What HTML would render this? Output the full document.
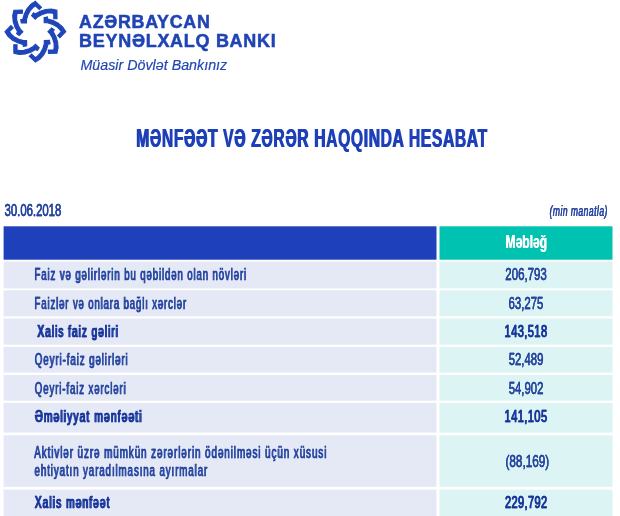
<!DOCTYPE html><html lang="az"><head><meta charset="utf-8"><title>Mənfəət və zərər haqqında hesabat</title><style>
html,body{margin:0;padding:0;background:#fff;}
body{width:620px;height:516px;position:relative;overflow:hidden;font-family:"Liberation Sans",sans-serif;}
.c{position:absolute;}
</style></head><body>
<svg class="c" style="left:0;top:0" width="72" height="66" viewBox="0 0 72 66"><g fill="#1f45ba" stroke="#1f45ba" stroke-width="1.1" stroke-linejoin="miter" transform="translate(35.4,31.7)">
<path transform="rotate(0)" d="M0.00,-30.40 L6.10,-24.50 L3.80,-22.20 L0.00,-25.90 L-2.10,-24.40 L-5.00,-21.40 L-7.60,-16.50 L-8.90,-12.00 L-8.90,-8.80 L-14.10,-8.70 L-14.70,-12.00 L-12.70,-12.40 L-11.10,-17.80 L-8.50,-22.90 L-4.70,-27.40Z"/>
<path transform="rotate(45)" d="M0.00,-30.40 L6.10,-24.50 L3.80,-22.20 L0.00,-25.90 L-2.10,-24.40 L-5.00,-21.40 L-7.60,-16.50 L-8.90,-12.00 L-8.90,-8.80 L-14.10,-8.70 L-14.70,-12.00 L-12.70,-12.40 L-11.10,-17.80 L-8.50,-22.90 L-4.70,-27.40Z"/>
<path transform="rotate(90)" d="M0.00,-30.40 L6.10,-24.50 L3.80,-22.20 L0.00,-25.90 L-2.10,-24.40 L-5.00,-21.40 L-7.60,-16.50 L-8.90,-12.00 L-8.90,-8.80 L-14.10,-8.70 L-14.70,-12.00 L-12.70,-12.40 L-11.10,-17.80 L-8.50,-22.90 L-4.70,-27.40Z"/>
<path transform="rotate(135)" d="M0.00,-30.40 L6.10,-24.50 L3.80,-22.20 L0.00,-25.90 L-2.10,-24.40 L-5.00,-21.40 L-7.60,-16.50 L-8.90,-12.00 L-8.90,-8.80 L-14.10,-8.70 L-14.70,-12.00 L-12.70,-12.40 L-11.10,-17.80 L-8.50,-22.90 L-4.70,-27.40Z"/>
<path transform="rotate(180)" d="M0.00,-30.40 L6.10,-24.50 L3.80,-22.20 L0.00,-25.90 L-2.10,-24.40 L-5.00,-21.40 L-7.60,-16.50 L-8.90,-12.00 L-8.90,-8.80 L-14.10,-8.70 L-14.70,-12.00 L-12.70,-12.40 L-11.10,-17.80 L-8.50,-22.90 L-4.70,-27.40Z"/>
<path transform="rotate(225)" d="M0.00,-30.40 L6.10,-24.50 L3.80,-22.20 L0.00,-25.90 L-2.10,-24.40 L-5.00,-21.40 L-7.60,-16.50 L-8.90,-12.00 L-8.90,-8.80 L-14.10,-8.70 L-14.70,-12.00 L-12.70,-12.40 L-11.10,-17.80 L-8.50,-22.90 L-4.70,-27.40Z"/>
<path transform="rotate(270)" d="M0.00,-30.40 L6.10,-24.50 L3.80,-22.20 L0.00,-25.90 L-2.10,-24.40 L-5.00,-21.40 L-7.60,-16.50 L-8.90,-12.00 L-8.90,-8.80 L-14.10,-8.70 L-14.70,-12.00 L-12.70,-12.40 L-11.10,-17.80 L-8.50,-22.90 L-4.70,-27.40Z"/>
<path transform="rotate(315)" d="M0.00,-30.40 L6.10,-24.50 L3.80,-22.20 L0.00,-25.90 L-2.10,-24.40 L-5.00,-21.40 L-7.60,-16.50 L-8.90,-12.00 L-8.90,-8.80 L-14.10,-8.70 L-14.70,-12.00 L-12.70,-12.40 L-11.10,-17.80 L-8.50,-22.90 L-4.70,-27.40Z"/>
</g></svg>
<svg class="c" style="left:0;top:0" width="620" height="516" viewBox="0 0 620 516">
<rect x="3.6" y="226.3" width="432.9" height="33.4" fill="#1e41bb"/><rect x="439.5" y="226.3" width="173.0" height="33.4" fill="#00c2b0"/>
<rect x="3.6" y="261.6" width="432.9" height="26.8" fill="#e5e9f6"/><rect x="439.5" y="261.6" width="173.0" height="26.8" fill="#dcf4f4"/>
<rect x="3.6" y="290.3" width="432.9" height="26.0" fill="#e5e9f6"/><rect x="439.5" y="290.3" width="173.0" height="26.0" fill="#dcf4f4"/>
<rect x="3.6" y="318.5" width="432.9" height="26.2" fill="#e5e9f6"/><rect x="439.5" y="318.5" width="173.0" height="26.2" fill="#dcf4f4"/>
<rect x="3.6" y="346.9" width="432.9" height="25.7" fill="#e5e9f6"/><rect x="439.5" y="346.9" width="173.0" height="25.7" fill="#dcf4f4"/>
<rect x="3.6" y="375.0" width="432.9" height="25.7" fill="#e5e9f6"/><rect x="439.5" y="375.0" width="173.0" height="25.7" fill="#dcf4f4"/>
<rect x="3.6" y="402.9" width="432.9" height="29.7" fill="#e5e9f6"/><rect x="439.5" y="402.9" width="173.0" height="29.7" fill="#dcf4f4"/>
<rect x="3.6" y="435.3" width="432.9" height="51.5" fill="#e5e9f6"/><rect x="439.5" y="435.3" width="173.0" height="51.5" fill="#dcf4f4"/>
<rect x="3.6" y="489.6" width="432.9" height="30" fill="#e5e9f6"/><rect x="439.5" y="489.6" width="173.0" height="30" fill="#dcf4f4"/>
</svg>
<svg class="c" style="left:0;top:0;will-change:transform;font-family:'Liberation Sans',sans-serif" width="620" height="516" viewBox="0 0 620 516">
<text id="t-l1" transform="translate(79.05,28.00) scale(1.0039,1)" font-size="17.8" font-weight="700" font-style="normal" fill="#1f44b4" letter-spacing="0.7" stroke="#1f44b4" stroke-width="0.5" stroke-linejoin="round">AZƏRBAYCAN</text>
<text id="t-l2" transform="translate(79.09,47.00) scale(1.0114,1)" font-size="17.8" font-weight="700" font-style="normal" fill="#1f44b4" letter-spacing="0.7" stroke="#1f44b4" stroke-width="0.5" stroke-linejoin="round">BEYNƏLXALQ BANKI</text>
<text id="t-l3" transform="translate(80.45,70.00) scale(0.9855,1)" font-size="14.5" font-weight="400" font-style="italic" fill="#2347b0" stroke="#2347b0" stroke-width="0.2" stroke-linejoin="round">Müasir Dövlət Bankınız</text>
<text id="t-ti" transform="translate(135.77,147.00) scale(0.6060,1)" font-size="25.9" font-weight="700" font-style="normal" fill="#1d3fb8" letter-spacing="1.0">MƏNFƏƏT VƏ ZƏRƏR HAQQINDA HESABAT</text><use href="#t-ti" x="0.90"/>
<text id="t-dt" transform="translate(4.41,216.00) scale(0.6527,1)" font-size="17.4" font-weight="400" font-style="normal" fill="#26459f" stroke="#26459f" stroke-width="0.35" stroke-linejoin="round">30.06.2018</text><use href="#t-dt" x="0.20"/>
<text id="t-mm" transform="translate(549.55,216.00) scale(0.5878,1)" font-size="14.5" font-weight="400" font-style="italic" fill="#26459f" letter-spacing="0.8" stroke="#26459f" stroke-width="0.25" stroke-linejoin="round">(min manatla)</text><use href="#t-mm" x="0.20"/>
<text id="t-hd" transform="translate(505.34,248.00) scale(0.6453,1)" font-size="18.7" font-weight="700" font-style="normal" fill="#ffffff">Məbləğ</text><use href="#t-hd" x="0.50"/>
<text id="t-r1" transform="translate(34.30,280.00) scale(0.5539,1)" font-size="17.4" font-weight="400" font-style="normal" fill="#26459f" letter-spacing="1.6" stroke="#26459f" stroke-width="0.35" stroke-linejoin="round">Faiz və gəlirlərin bu qəbildən olan növləri</text><use href="#t-r1" x="0.54"/>
<text id="t-r2" transform="translate(34.30,309.00) scale(0.5495,1)" font-size="17.4" font-weight="400" font-style="normal" fill="#26459f" letter-spacing="1.6" stroke="#26459f" stroke-width="0.35" stroke-linejoin="round">Faizlər və onlara bağlı xərclər</text><use href="#t-r2" x="0.54"/>
<text id="t-r3" transform="translate(37.10,337.00) scale(0.5830,1)" font-size="17.1" font-weight="400" font-style="normal" fill="#17359a" letter-spacing="1.8" stroke="#17359a" stroke-width="0.6" stroke-linejoin="round">Xalis faiz gəliri</text><use href="#t-r3" x="0.84"/>
<text id="t-r4" transform="translate(34.57,365.00) scale(0.5609,1)" font-size="17.4" font-weight="400" font-style="normal" fill="#26459f" letter-spacing="1.6" stroke="#26459f" stroke-width="0.35" stroke-linejoin="round">Qeyri-faiz gəlirləri</text><use href="#t-r4" x="0.54"/>
<text id="t-r5" transform="translate(34.57,394.00) scale(0.5546,1)" font-size="17.4" font-weight="400" font-style="normal" fill="#26459f" letter-spacing="1.6" stroke="#26459f" stroke-width="0.35" stroke-linejoin="round">Qeyri-faiz xərcləri</text><use href="#t-r5" x="0.54"/>
<text id="t-r6" transform="translate(34.55,422.00) scale(0.6044,1)" font-size="17.1" font-weight="400" font-style="normal" fill="#17359a" letter-spacing="1.8" stroke="#17359a" stroke-width="0.6" stroke-linejoin="round">Əməliyyat mənfəəti</text><use href="#t-r6" x="0.84"/>
<text id="t-r7a" transform="translate(33.99,458.00) scale(0.5686,1)" font-size="17.4" font-weight="400" font-style="normal" fill="#26459f" letter-spacing="1.6" stroke="#26459f" stroke-width="0.35" stroke-linejoin="round">Aktivlər üzrə mümkün zərərlərin ödənilməsi üçün xüsusi</text><use href="#t-r7a" x="0.54"/>
<text id="t-r7b" transform="translate(34.31,476.00) scale(0.5601,1)" font-size="17.4" font-weight="400" font-style="normal" fill="#26459f" letter-spacing="1.6" stroke="#26459f" stroke-width="0.35" stroke-linejoin="round">ehtiyatın yaradılmasına ayırmalar</text><use href="#t-r7b" x="0.54"/>
<text id="t-r8" transform="translate(34.40,508.00) scale(0.5965,1)" font-size="17.1" font-weight="400" font-style="normal" fill="#17359a" letter-spacing="1.8" stroke="#17359a" stroke-width="0.6" stroke-linejoin="round">Xalis mənfəət</text><use href="#t-r8" x="0.84"/>
<text id="t-v1" transform="translate(505.27,280.00) scale(0.6639,1)" font-size="17.3" font-weight="400" font-style="normal" fill="#26459f" stroke="#26459f" stroke-width="0.3" stroke-linejoin="round">206,793</text><use href="#t-v1" x="0.10"/>
<text id="t-v2" transform="translate(508.47,309.00) scale(0.6595,1)" font-size="17.3" font-weight="400" font-style="normal" fill="#26459f" stroke="#26459f" stroke-width="0.3" stroke-linejoin="round">63,275</text><use href="#t-v2" x="0.10"/>
<text id="t-v3" transform="translate(504.35,337.00) scale(0.6535,1)" font-size="17.0" font-weight="400" font-style="normal" fill="#17359a" letter-spacing="0.6" stroke="#17359a" stroke-width="0.5" stroke-linejoin="round">143,518</text><use href="#t-v3" x="0.50"/>
<text id="t-v4" transform="translate(508.64,365.00) scale(0.6563,1)" font-size="17.3" font-weight="400" font-style="normal" fill="#26459f" stroke="#26459f" stroke-width="0.3" stroke-linejoin="round">52,489</text><use href="#t-v4" x="0.10"/>
<text id="t-v5" transform="translate(508.64,394.00) scale(0.6563,1)" font-size="17.3" font-weight="400" font-style="normal" fill="#26459f" stroke="#26459f" stroke-width="0.3" stroke-linejoin="round">54,902</text><use href="#t-v5" x="0.10"/>
<text id="t-v6" transform="translate(504.35,422.00) scale(0.6535,1)" font-size="17.0" font-weight="400" font-style="normal" fill="#17359a" letter-spacing="0.6" stroke="#17359a" stroke-width="0.5" stroke-linejoin="round">141,105</text><use href="#t-v6" x="0.50"/>
<text id="t-v7" transform="translate(505.46,467.00) scale(0.6768,1)" font-size="17.3" font-weight="400" font-style="normal" fill="#26459f" stroke="#26459f" stroke-width="0.3" stroke-linejoin="round">(88,169)</text><use href="#t-v7" x="0.10"/>
<text id="t-v8" transform="translate(504.68,508.00) scale(0.6484,1)" font-size="17.0" font-weight="400" font-style="normal" fill="#17359a" letter-spacing="0.6" stroke="#17359a" stroke-width="0.5" stroke-linejoin="round">229,792</text><use href="#t-v8" x="0.50"/>
</svg>
</body></html>
